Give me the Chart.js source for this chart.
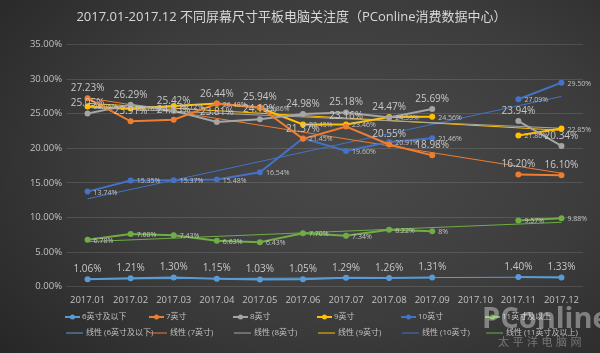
<!DOCTYPE html>
<html>
<head>
<meta charset="utf-8">
<script src="https://cdn.jsdelivr.net/npm/chart.js@4.4.0/dist/chart.umd.min.js"></script>
<style>
  html, body { margin: 0; padding: 0; background: #333; }
  #wrap {
    position: relative; width: 600px; height: 353px;
    background: radial-gradient(ellipse 75% 85% at 58% 45%, #4a4a4a 0%, #3c3c3c 55%, #272727 100%);
  }
</style>
</head>
<body>
<div id="wrap"><canvas id="chart"></canvas></div>
<script>
const months = ['2017.01', '2017.02', '2017.03', '2017.04', '2017.05', '2017.06',
  '2017.07', '2017.08', '2017.09', '2017.10', '2017.11', '2017.12'];
const seriesNames = ['6英寸及以下', '7英寸', '8英寸', '9英寸', '10英寸', '11英寸及以上'];

// share of attention, % (2017.10 missing)
const size6 = [1.06, 1.21, 1.30, 1.15, 1.03, 1.05, 1.29, 1.26, 1.31, null, 1.40, 1.33];
const size7 = [27.23, 23.91, 24.13, 26.44, 25.94, 21.37, 23.16, 20.55, 18.98, null, 16.20, 16.10];
const size8 = [25.05, 26.29, 25.42, 23.81, 24.19, 24.98, 25.18, 24.47, 25.69, null, 23.94, 20.34];
const size9 = [26.05, 25.76, 26.12, 26.48, 25.86, 23.45, 23.46, 24.53, 24.56, null, 21.86, 22.85];
const size10 = [13.74, 15.35, 15.37, 15.48, 16.54, 21.45, 19.60, 20.91, 21.46, null, 27.09, 29.50];
const size11 = [6.78, 7.60, 7.43, 6.63, 6.43, 7.70, 7.34, 8.22, 8, null, 9.57, 9.88];

// linear trend lines, start (2017.01) and end (2017.12)
const trend6 = [1.10, 1.38];
const trend7 = [27.3, 16.4];
const trend8 = [25.9, 22.9];
const trend9 = [26.5, 22.6];
const trend10 = [12.7, 27.5];
const trend11 = [6.5, 9.3];

const yTicks = [0, 5, 10, 15, 20, 25, 30, 35];

const colors = ['#5b9bd5', '#ed7d31', '#a5a5a5', '#ffc000', '#4472c4', '#70ad47'];
const values = [size6, size7, size8, size9, size10, size11];
const trends = [trend6, trend7, trend8, trend9, trend10, trend11];
const labelModes = ['above', 'above', 'above', 'right', 'right', 'right'];

const trendData = (t) => months.map((m, i) => i === 0 ? t[0] : (i === months.length - 1 ? t[1] : null));

const datasets = [];
values.forEach((v, i) => {
  datasets.push({
    label: seriesNames[i],
    data: v,
    borderColor: colors[i],
    backgroundColor: colors[i],
    borderWidth: 2,
    pointRadius: 3,
    pointBorderWidth: 0,
    spanGaps: false,
    labelMode: labelModes[i],
    order: 1,
  });
});
trends.forEach((t, i) => {
  datasets.push({
    label: '线性 (' + seriesNames[i] + ')',
    data: trendData(t),
    borderColor: colors[i],
    backgroundColor: colors[i],
    borderWidth: 1,
    pointRadius: 0,
    spanGaps: true,
    isTrend: true,
    order: 2,
  });
});

const fmt = (v) => (Number.isInteger(v) ? v : v.toFixed(2)) + '%';
const FONT = '"Open Sans", "Noto Sans CJK SC", sans-serif';

const valueLabels = {
  id: 'valueLabels',
  afterDatasetsDraw(chart) {
    const ctx = chart.ctx;
    ctx.save();
    chart.data.datasets.forEach((ds, i) => {
      if (!ds.labelMode) return;
      const meta = chart.getDatasetMeta(i);
      meta.data.forEach((pt, j) => {
        const v = ds.data[j];
        if (v == null) return;
        if (ds.labelMode === 'above') {
          ctx.font = '10px ' + FONT;
          ctx.fillStyle = '#c8c8c8';
          ctx.textAlign = 'center';
          ctx.textBaseline = 'bottom';
          ctx.fillText(fmt(v), pt.x, pt.y - 5);
        } else {
          ctx.font = '7px ' + FONT;
          ctx.fillStyle = '#c4c4c4';
          ctx.textAlign = 'left';
          ctx.textBaseline = 'middle';
          ctx.fillText(fmt(v), pt.x + 6, pt.y + 1);
        }
      });
    });
    ctx.restore();
  }
};

// two-row legend: series on the first row, trend lines on the second
const gridLegend = {
  id: 'gridLegend',
  afterDraw(chart) {
    const ctx = chart.ctx;
    ctx.save();
    ctx.font = '8px ' + FONT;
    ctx.textBaseline = 'middle';
    ctx.textAlign = 'left';
    chart.data.datasets.forEach((ds, i) => {
      const col = i % 6;
      const row = ds.isTrend ? 1 : 0;
      const x = 65 + col * 84;
      const y = row === 0 ? 317 : 333;
      ctx.strokeStyle = ds.borderColor;
      ctx.fillStyle = ds.borderColor;
      ctx.beginPath();
      if (row === 0) {
        ctx.lineWidth = 2;
        ctx.moveTo(x, y); ctx.lineTo(x + 15, y); ctx.stroke();
        ctx.beginPath(); ctx.arc(x + 7.5, y, 2.5, 0, Math.PI * 2); ctx.fill();
        ctx.fillStyle = '#c0c0c0';
        ctx.fillText(ds.label, x + 17, y);
      } else {
        ctx.lineWidth = 1;
        ctx.moveTo(x + 1, y); ctx.lineTo(x + 18, y); ctx.stroke();
        ctx.fillStyle = '#c0c0c0';
        ctx.fillText(ds.label, x + 21, y);
      }
    });
    // watermark
    ctx.fillStyle = 'rgba(255,255,255,0.38)';
    ctx.font = 'bold 29px ' + FONT;
    ctx.fillText('PConline', 482, 320);
    ctx.font = '11px "Noto Sans CJK SC", sans-serif';
    ctx.fillStyle = 'rgba(255,255,255,0.32)';
    const wm = '太平洋电脑网';
    for (let k = 0; k < wm.length; k++) ctx.fillText(wm[k], 498 + k * 14.5, 342);
    ctx.restore();
  }
};

new Chart(document.getElementById('chart'), {
  type: 'line',
  data: { labels: months, datasets: datasets },
  plugins: [valueLabels, gridLegend],
  options: {
    responsive: true,
    maintainAspectRatio: false,
    animation: false,
    layout: { padding: { left: 0, right: 17, top: 0, bottom: 47 } },
    plugins: {
      legend: { display: false },
      tooltip: { enabled: false },
      title: {
        display: true,
        text: '2017.01-2017.12 不同屏幕尺寸平板电脑关注度（PConline消费数据中心）',
        color: '#d8d8d8',
        font: { size: 13, family: FONT, weight: 'normal' },
        padding: { top: 9, bottom: 20 },
      },
    },
    scales: {
      x: {
        offset: true,
        grid: { display: false },
        border: { display: false },
        ticks: { color: '#c0c0c0', font: { size: 9.5, family: FONT }, padding: 0, maxRotation: 0 },
      },
      y: {
        min: 0,
        max: 35,
        afterFit: (s) => { s.width = 66; },
        afterBuildTicks: (s) => { s.ticks = yTicks.map(v => ({ value: v })); },
        grid: { color: 'rgba(255,255,255,0.12)', drawTicks: false },
        border: { display: false },
        ticks: { color: '#c0c0c0', font: { size: 9.5, family: FONT }, padding: 4,
          callback: (v) => v.toFixed(2) + '%' },
      },
    },
  },
});
</script>
</body>
</html>
